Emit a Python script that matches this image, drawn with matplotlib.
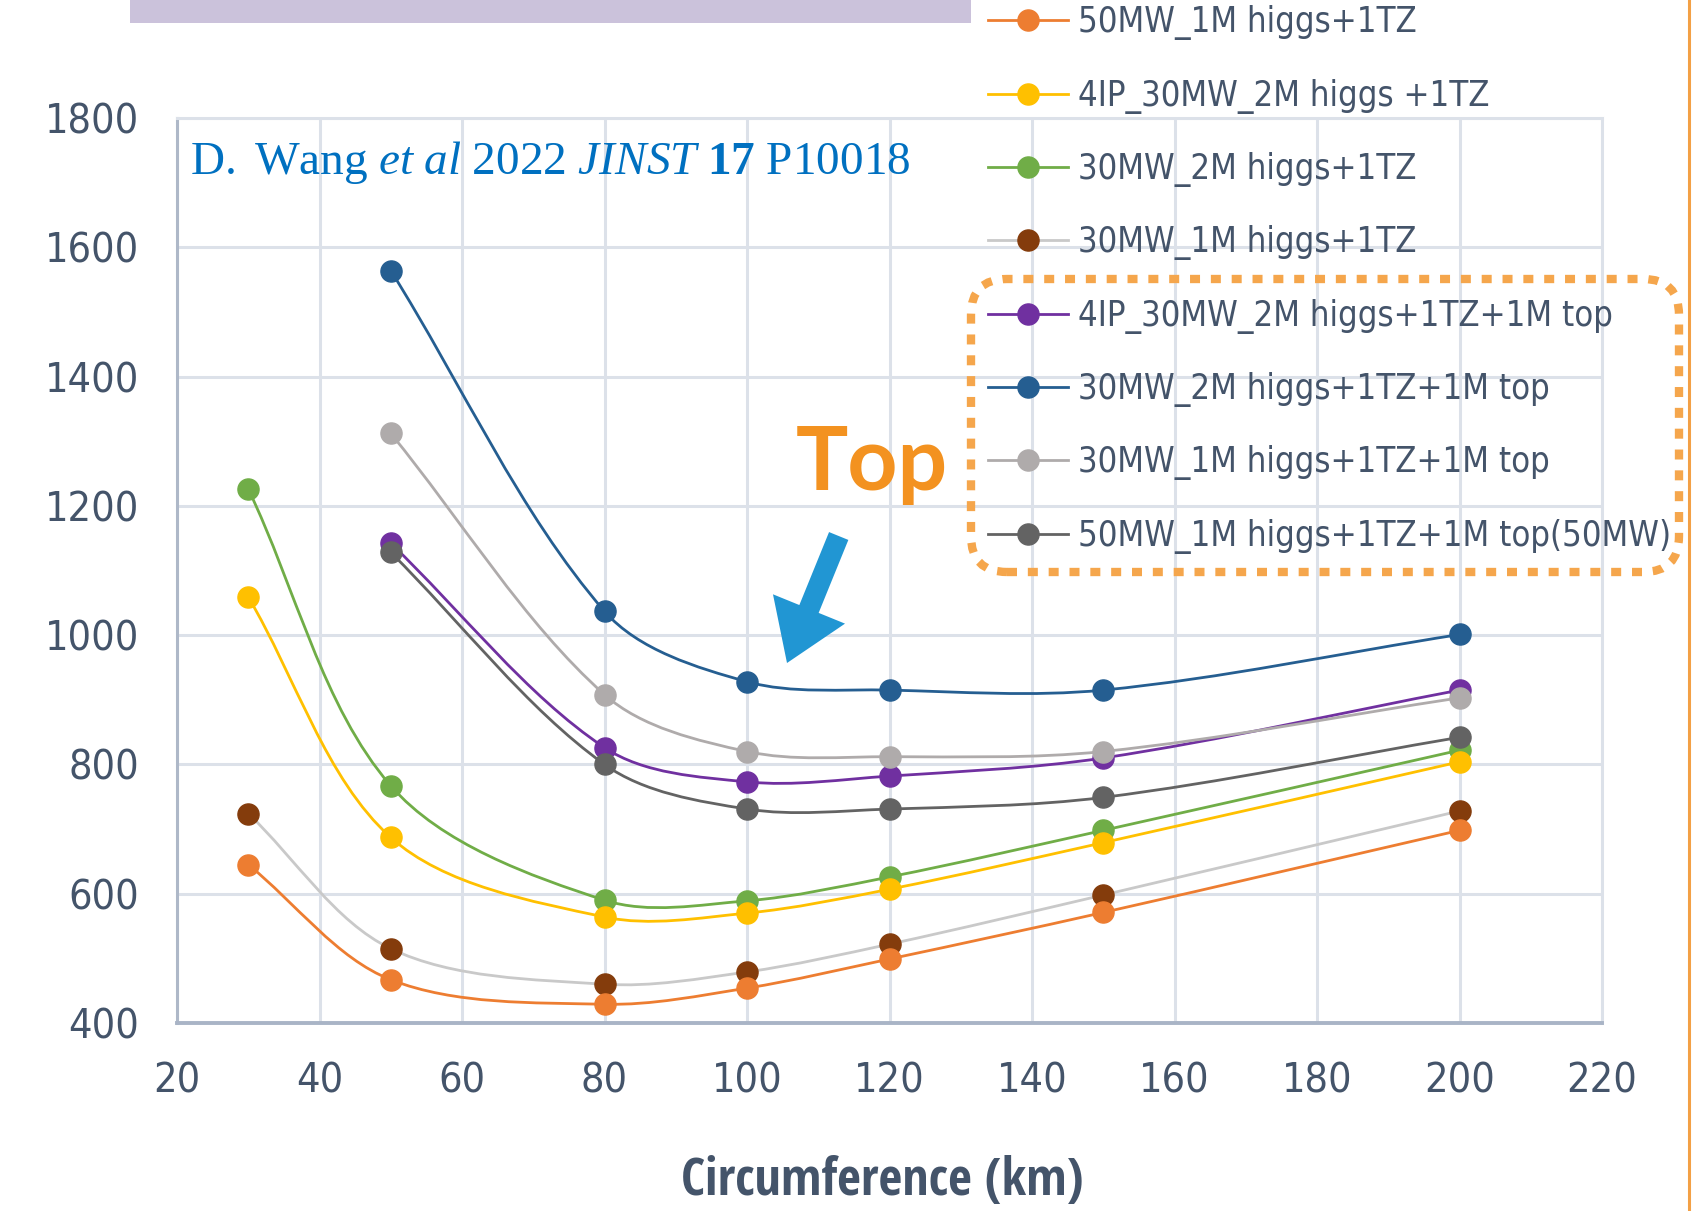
import numpy as np
import matplotlib
matplotlib.use("Agg")
import matplotlib.pyplot as plt
from matplotlib.path import Path
from matplotlib.patches import PathPatch, FancyBboxPatch, FancyArrowPatch, Rectangle, ArrowStyle
from matplotlib.lines import Line2D
from matplotlib import font_manager as fm

# ---------------- data ----------------
x_full = [30, 50, 80, 100, 120, 150, 200]
x_top = [50, 80, 100, 120, 150, 200]

labels = [
    "50MW_1M higgs+1TZ",
    "4IP_30MW_2M higgs +1TZ",
    "30MW_2M higgs+1TZ",
    "30MW_1M higgs+1TZ",
    "4IP_30MW_2M higgs+1TZ+1M top",
    "30MW_2M higgs+1TZ+1M top",
    "30MW_1M higgs+1TZ+1M top",
    "50MW_1M higgs+1TZ+1M top(50MW)",
]
y_50mw_1m = [645, 467, 429, 454, 499, 571, 698]
y_4ip_30mw_2m = [1059, 687, 564, 570, 607, 679, 804]
y_30mw_2m = [1226, 767, 590, 589, 626, 698, 822]
y_30mw_1m = [724, 515, 460, 479, 522, 598, 728]
y_4ip_30mw_2m_top = [1142, 826, 773, 782, 810, 915]
y_30mw_2m_top = [1564, 1037, 928, 915, 915, 1001]
y_30mw_1m_top = [1312, 908, 820, 812, 820, 903]
y_50mw_1m_top = [1128, 800, 731, 731, 749, 842]

xs = [x_full, x_full, x_full, x_full, x_top, x_top, x_top, x_top]
ys = [y_50mw_1m, y_4ip_30mw_2m, y_30mw_2m, y_30mw_1m,
      y_4ip_30mw_2m_top, y_30mw_2m_top, y_30mw_1m_top, y_50mw_1m_top]
line_colors = ["#ED7D31", "#FFC000", "#70AD47", "#C9C9C9",
               "#7030A0", "#255E91", "#AFABAB", "#636363"]
marker_colors = ["#ED7D31", "#FFC000", "#70AD47", "#843C0C",
                 "#7030A0", "#255E91", "#AFABAB", "#636363"]
zorders = [2.3, 2.2, 2.1, 2.0, 2.4, 2.5, 2.6, 2.7]

x_ticks = list(range(20, 221, 20))
y_ticks = list(range(400, 1801, 200))

# ---------------- fonts ----------------
BAD_STRETCH = ("extra-condensed", "ultra-condensed")
PREFS = ["liberation sans narrow", "dejavu sans", "noto sans", "open sans",
         "roboto", "arial narrow", "lato", "inter"]


def _wt(f):
    w = f.weight
    if isinstance(w, str):
        w = {"bold": 700, "normal": 400, "regular": 400, "light": 300,
             "medium": 500, "semibold": 600}.get(w.lower(), 400)
    return int(w)


def _narrow(f):
    n = f.name.lower()
    s = str(f.stretch).lower()
    if any(k in n for k in ("extra", "ultra", "mono", "serif", "cjk")):
        return False
    if s in BAD_STRETCH:
        return False
    return ("narrow" in n or "condensed" in n or s in ("condensed", "semi-condensed")
            or (s.isdigit() and int(s) < 500))


def _rank(f):
    n = f.name.lower()
    for i, p in enumerate(PREFS):
        if n.startswith(p):
            return i
    return len(PREFS)


cands = [f for f in fm.fontManager.ttflist if f.style == "normal" and _narrow(f)]


def _reg_pen(w):
    return abs(w - 400) if w <= 500 else 3 * (w - 400)


reg_ent = min(cands, key=lambda f: _reg_pen(_wt(f)) * 10 + _rank(f)) if cands else None
if reg_ent is not None and _reg_pen(_wt(reg_ent)) > 150:
    reg_ent = None
bold_cands = [f for f in cands if _wt(f) >= 600]


def fp_reg(size):
    if reg_ent is not None:
        return fm.FontProperties(fname=reg_ent.fname, size=size)
    return fm.FontProperties(family="Liberation Sans", size=size)


plt.rcParams["mathtext.fontset"] = "custom"
plt.rcParams["mathtext.rm"] = "Liberation Serif"
plt.rcParams["mathtext.it"] = "Liberation Serif:italic"
plt.rcParams["mathtext.bf"] = "Liberation Serif:bold"

TXT = "#44546A"
GRID = "#DCE1E9"

W, H = 1692, 1211
fig = plt.figure(figsize=(W / 100, H / 100), dpi=100)
renderer = fig.canvas.get_renderer()
PX = 100 / 72.0


def width_size(text, fp_at20, target_w):
    t = fig.text(0, 0, text, fontproperties=fp_at20)
    w = t.get_window_extent(renderer).width
    t.remove()
    return 20 * target_w / w


def fit(text, fpfun, target_w, target_cap):
    return min(width_size(text, fpfun(20), target_w), target_cap / (0.72 * PX))


# bold font for the axis title: the bold whose proportions best fit the target box
XLAB = "Circumference (km)"
XLAB_W, XLAB_CAP = 402, 38
size_h_x = XLAB_CAP / (0.72 * PX)
best = None
for f in bold_cands:
    try:
        s = width_size(XLAB, fm.FontProperties(fname=f.fname, size=20), XLAB_W)
    except Exception:
        continue
    score = abs(np.log(s / size_h_x)) + 0.02 * _rank(f)
    if best is None or score < best[0]:
        best = (score, f)
if best is not None:
    bold_file = best[1].fname

    def fp_bold(size):
        return fm.FontProperties(fname=bold_file, size=size)
else:
    def fp_bold(size):
        return fm.FontProperties(family="Liberation Sans", size=size, weight="bold")

fs_leg = fit("50MW_1M higgs+1TZ+1M top(50MW)", fp_reg, 593, 29)
fs_tick_w = width_size("1800", fp_reg(20), 82)
fs_tick_h = 34 / (0.72 * PX)
fs_tick = min(fs_tick_h, (fs_tick_w * fs_tick_h) ** 0.5)
fs_xlab = min(width_size(XLAB, fp_bold(20), XLAB_W), size_h_x * 1.05)

AX_W, AX_H = 1425, 905
ax = fig.add_axes([177 / W, 1 - 1023 / H, AX_W / W, AX_H / H])
ax.set_xlim(20, 220)
ax.set_ylim(400, 1800)
SX = AX_W / 200.0
SY = AX_H / 1400.0


def smooth_path(x, y):
    """Excel-style smoothed line: Bezier segments with chord-weighted tangents
    computed in screen space, converted back to data space."""
    pts = np.column_stack([np.asarray(x, float) * SX, np.asarray(y, float) * SY])
    n = len(pts)

    def P(i):
        return pts[min(max(i, 0), n - 1)]

    def d(i, j):
        return np.hypot(*(P(j) - P(i)))

    verts = [pts[0]]
    codes = [Path.MOVETO]
    for i in range(n - 1):
        dcur = d(i, i + 1)
        dprev = d(i - 1, i)
        dnext = d(i + 1, i + 2)
        c1 = P(i) + (P(i + 1) - P(i - 1)) * dcur / (dprev + dcur) / 3.0
        c2 = P(i + 1) - (P(i + 2) - P(i)) * dcur / (dcur + dnext) / 3.0
        verts += [c1, c2, P(i + 1)]
        codes += [Path.CURVE4] * 3
    v = np.array(verts)
    v[:, 0] /= SX
    v[:, 1] /= SY
    return Path(v, codes)


LW = 2.0
MS = 15.2
handles = []
for x, y, lc, mc, z, lab in zip(xs, ys, line_colors, marker_colors, zorders, labels):
    ax.add_patch(PathPatch(smooth_path(x, y), facecolor="none", edgecolor=lc,
                           lw=LW, zorder=z, capstyle="round", joinstyle="round"))
    ax.plot(x, y, ls="none", marker="o", ms=MS, mfc=mc, mec=mc, zorder=z + 0.01)
    handles.append(Line2D([], [], color=lc, lw=LW, marker="o", ms=MS, mfc=mc, mec=mc))

ax.set_xticks(x_ticks)
ax.set_yticks(y_ticks)
ax.grid(True, color=GRID, lw=2.2)
ax.set_axisbelow(True)
ax.tick_params(length=0, labelcolor=TXT)
ax.tick_params(axis="x", pad=28)
ax.tick_params(axis="y", pad=27)
for lab in ax.get_xticklabels() + ax.get_yticklabels():
    lab.set_fontproperties(fp_reg(fs_tick))
for s in ["top", "right"]:
    ax.spines[s].set_color(GRID)
    ax.spines[s].set_linewidth(2.2)
ax.spines["left"].set_color("#AEB8C8")
ax.spines["left"].set_linewidth(2.2)
ax.spines["bottom"].set_color("#A9B4C6")
ax.spines["bottom"].set_linewidth(2.8)

ax.set_xlabel(XLAB, fontproperties=fp_bold(fs_xlab), color=TXT, va="baseline")
ax.xaxis.set_label_coords(0.495, -(1195 - 1023) / AX_H)

ax.text(13 / AX_W, 1 - (174 - 118) / AX_H,
        r"$\mathrm{D.\ Wang}\ \mathit{et\ al}\ \mathrm{2022}\ \mathit{JINST}\ \mathbf{17}\ \mathrm{P10018}$",
        transform=ax.transAxes, fontsize=34, color="#0070C0", va="baseline", ha="left")

# legend
fs_px = fs_leg * PX
tt = fig.text(0, 0, "50MW_1M higgs+1TZ", fontproperties=fp_reg(fs_leg))
h_txt = tt.get_window_extent(renderer).height
tt.remove()
pitch = 73.3
fig.legend(handles, labels, loc="upper left",
           bbox_to_anchor=(988 / W, 1 - (23 - h_txt / 2) / H), bbox_transform=fig.transFigure,
           frameon=False, borderpad=0, borderaxespad=0,
           handlelength=80 / fs_px, handletextpad=10 / fs_px,
           labelspacing=(pitch - h_txt) / fs_px,
           prop=fp_reg(fs_leg), labelcolor=TXT)

# decorations in pixel space (inches transform)
inch = fig.dpi_scale_trans


def px(xp, yp):
    return (xp / 100.0, (H - yp) / 100.0)


x0, y0 = px(130, 23)
fig.patches.append(Rectangle((x0, y0), (971 - 130) / 100, 0.3, transform=inch,
                             facecolor="#CBC2DB", edgecolor="none"))
fig.lines.append(Line2D([1689 / W, 1689 / W], [0, 1], transform=fig.transFigure,
                        color="#F3A046", lw=2.2))

bx0, by0 = px(971, 572)
fig.patches.append(FancyBboxPatch((bx0, by0), (1679 - 971) / 100, (572 - 279) / 100,
                                  boxstyle="round,pad=0,rounding_size=0.36",
                                  transform=inch, facecolor="none", edgecolor="#F5A64C",
                                  lw=6.0, linestyle=(0, (1.2, 1.3)), capstyle="butt"))

fig.text(796 / W, 1 - 490 / H, "Top", family="Lato", fontweight="bold",
         fontsize=63, color="#F39220", ha="left", va="baseline")
fig.patches.append(FancyArrowPatch(px(838.7, 536), px(787, 663), transform=inch,
                                   arrowstyle=ArrowStyle.Simple(head_length=42, head_width=56,
                                                                tail_width=15),
                                   mutation_scale=1, shrinkA=0, shrinkB=0,
                                   facecolor="#2196D3", edgecolor="none"))

fig.savefig("out.png", dpi=100)
